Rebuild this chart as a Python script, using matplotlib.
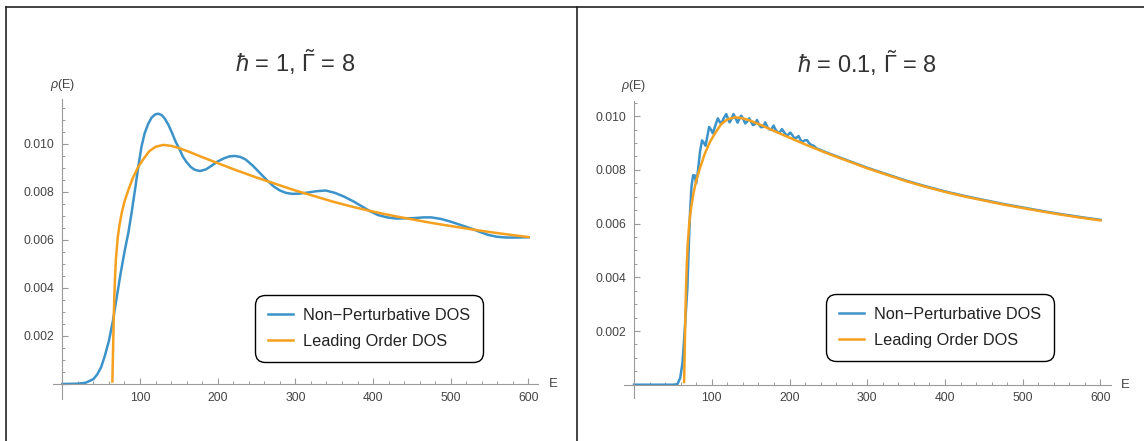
import numpy as np
import matplotlib.pyplot as plt
from matplotlib.lines import Line2D
import matplotlib.transforms as mtransforms

plt.rcParams['font.family'] = ['Liberation Sans', 'DejaVu Sans']
plt.rcParams['mathtext.fontset'] = 'custom'
plt.rcParams['mathtext.rm'] = 'Liberation Sans'
plt.rcParams['mathtext.it'] = 'Liberation Sans:italic'

# leading order DOS (same curve in both panels)
lo_E = [64.4, 65.3, 66.2, 67.0, 67.8, 69.0, 71.3, 73.5, 76.4, 80, 85, 91, 97.8, 105, 112,
        120, 130, 140, 150, 165, 180, 200, 225, 250, 275, 300, 325, 350, 375, 400,
        425, 450, 475, 500, 525, 550, 575, 600]
lo_rho = [0.0001, 0.0014, 0.0027, 0.0037, 0.0044, 0.0052, 0.0061, 0.0066, 0.00712, 0.0076,
          0.00808, 0.0086, 0.00905, 0.0094, 0.0097, 0.00988, 0.00996, 0.00992, 0.00983,
          0.00965, 0.00945, 0.0092, 0.00889, 0.0086, 0.00833, 0.00806, 0.00782, 0.00758,
          0.00737, 0.00718, 0.00701, 0.00686, 0.00671, 0.00658, 0.00645, 0.00633, 0.00622,
          0.00612]

# non-perturbative DOS, hbar = 1
np1_E = [0, 20, 30, 40, 45, 50, 55, 60, 65, 70, 75, 80, 85, 89, 93.6, 98, 102, 106, 110.7,
         115, 119.5, 123.6, 128, 132, 136.5, 141, 146, 150.6, 155, 160, 165, 170, 177, 185,
         192, 200, 208, 215, 222, 229, 236, 245, 254, 263, 272, 280, 288, 296, 305, 315, 327,
         339, 351, 363, 375, 386, 396, 406, 418, 430, 442, 453, 465, 475, 488, 500, 512, 525,
         537, 548, 560, 572, 586, 600]
np1_rho = [0, 0.00001, 0.00005, 0.0002, 0.0004, 0.0007, 0.0012, 0.0018, 0.0026, 0.0036,
           0.0046, 0.0055, 0.0063, 0.0071, 0.0081, 0.0091, 0.0099, 0.01045, 0.01085, 0.0111,
           0.01123, 0.01126, 0.0112, 0.01105, 0.0108, 0.01048, 0.01008, 0.0098, 0.00948,
           0.00924, 0.00905, 0.00893, 0.00887, 0.00894, 0.00909, 0.00927, 0.0094, 0.00948,
           0.0095, 0.00946, 0.00935, 0.0091, 0.0088, 0.0085, 0.00823, 0.00806, 0.00796,
           0.00792, 0.00793, 0.00797, 0.00803, 0.00806, 0.00796, 0.0078, 0.0076, 0.00739,
           0.0072, 0.00704, 0.00694, 0.00689, 0.0069, 0.00691, 0.00694, 0.00694, 0.00687,
           0.00676, 0.00663, 0.00649, 0.00634, 0.00621, 0.00613, 0.0061, 0.0061, 0.00611]

# non-perturbative DOS, hbar = 0.1
np01_E = [0, 50, 55.8, 59.3, 62.3, 64.4, 66.6, 68.7, 70.5, 72.2, 74.0, 76.0, 78.0, 80.0,
          82.0, 85.0, 87.5, 90.0, 92.0, 94.0, 96.6, 99.0, 101.4, 104.0, 107.8, 110.0, 112.1,
          115.0, 118.6, 121.0, 122.9, 125.5, 128.0, 131.0, 133.2, 135.5, 137.9, 140.5, 143.0,
          145.5, 148.2, 150.5, 152.9, 155.5, 158.1, 160.5, 163.2, 166.0, 168.8, 171.5, 174.0,
          176.5, 179.5, 182.0, 184.7, 187.5, 190.3, 193.0, 195.5, 198.0, 201.0, 203.5, 206.2,
          209.0, 211.7, 214.5, 216.9, 219.5, 222.5, 225.0, 228.0, 231.0, 235.0, 250, 275, 300,
          325, 350, 375, 400, 425, 450, 475, 500, 525, 550, 575, 600]
np01_rho = [0, 0, 0.00002, 0.00024, 0.0008, 0.00166, 0.00266, 0.00365, 0.0052, 0.0065,
            0.0074, 0.0078, 0.0078, 0.0075, 0.0079, 0.0087, 0.0091, 0.0090, 0.0089, 0.0092,
            0.0096, 0.0095, 0.00936, 0.0096, 0.00992, 0.0098, 0.00971, 0.0099, 0.01008, 0.0099,
            0.00977, 0.0099, 0.01008, 0.0099, 0.00976, 0.0099, 0.01002, 0.0099, 0.00973, 0.0098,
            0.00992, 0.0098, 0.00967, 0.0097, 0.00986, 0.0097, 0.00959, 0.0096, 0.00977, 0.0096,
            0.00951, 0.0095, 0.00965, 0.0095, 0.0094, 0.0094, 0.00952, 0.0094, 0.0093, 0.0093,
            0.00939, 0.0093, 0.00918, 0.0092, 0.00926, 0.0091, 0.00905, 0.0091, 0.00911, 0.0090,
            0.00893, 0.0089, 0.0088, 0.00862, 0.00835, 0.00808, 0.00784, 0.0076, 0.00739,
            0.0072, 0.00703, 0.00688, 0.00673, 0.0066, 0.00647, 0.00635, 0.00624, 0.00614]

titles = [r'$\hbar$ = 1, $\tilde{\Gamma}$ = 8', r'$\hbar$ = 0.1, $\tilde{\Gamma}$ = 8']
labels = ['Non\u2212Perturbative DOS', 'Leading Order DOS']
x_ticks = [100, 200, 300, 400, 500, 600]
y_ticks = [0.002, 0.004, 0.006, 0.008, 0.010]

blue = '#3c93c9'
orange = '#f5a01e'
axis_gray = '#9a9a9a'
text_gray = '#444444'

fig = plt.figure(figsize=(11.44, 4.41), dpi=100)

panels = [
    dict(rect=[0.04598, 0.09456, 0.42448, 0.68027], ylim=(-0.00064, 0.01186),
         xlim=(-12.5, 612.5), np_E=np1_E, np_rho=np1_rho, legend_xy=(0.4168, 0.1243)),
    dict(rect=[0.54537, 0.09751, 0.42544, 0.67415], ylim=(-0.000495, 0.010577),
         xlim=(-13, 613), np_E=np01_E, np_rho=np01_rho, legend_xy=(0.4153, 0.1245)),
]

for p, title in zip(panels, titles):
    ax = fig.add_axes(p['rect'])
    ax.plot(p['np_E'], p['np_rho'], color=blue, lw=1.8, label=labels[0], solid_joinstyle='round')
    ax.plot(lo_E, lo_rho, color=orange, lw=1.8, label=labels[1], solid_joinstyle='round')
    ax.set_xlim(*p['xlim'])
    ax.set_ylim(*p['ylim'])

    # Mathematica-style axes crossing at the origin
    for side in ['top', 'right']:
        ax.spines[side].set_visible(False)
    for side in ['left', 'bottom']:
        ax.spines[side].set_position(('data', 0))
        ax.spines[side].set_color(axis_gray)
        ax.spines[side].set_linewidth(0.8)

    ax.set_xticks(x_ticks)
    ax.set_xticklabels([str(t) for t in x_ticks])
    ax.set_yticks(y_ticks)
    ax.set_yticklabels(['%.3f' % t for t in y_ticks])
    ax.set_xticks(np.arange(20, 601, 20), minor=True)
    ax.set_yticks(np.arange(0.0005, p['ylim'][1], 0.0005), minor=True)
    ax.tick_params(which='major', direction='in', length=4.5, width=0.8, color=axis_gray,
                   labelsize=8.8, labelcolor=text_gray, pad=5.5)
    ax.tick_params(which='minor', direction='in', length=2.2, width=0.7, color=axis_gray)

    # title, axis labels
    ax.text(0.5, 1.092, title, transform=ax.transAxes, ha='center', va='baseline',
            fontsize=17, color='#333333')
    trans = mtransforms.blended_transform_factory(ax.transData, ax.transAxes)
    ax.text(0, 1.038, r'$\rho$(E)', transform=trans, ha='center', va='baseline',
            fontsize=9, color=text_gray)
    ax.text(632, 0, 'E', ha='center', va='center', fontsize=9.5, color=text_gray)

    leg = ax.legend(loc='lower left', bbox_to_anchor=p['legend_xy'], borderaxespad=0,
                    fontsize=11.7, handlelength=1.55, handletextpad=0.6, borderpad=0.8,
                    labelspacing=0.67, framealpha=1, fancybox=True)
    leg.get_frame().set_edgecolor('black')
    leg.get_frame().set_linewidth(1.0)
    leg.get_frame().set_boxstyle('round', pad=0, rounding_size=0.6)
    for t in leg.get_texts():
        t.set_color('#222222')

# outer frame lines of the two cells
fig.add_artist(Line2D([6 / 1144, 1], [1 - 7 / 441, 1 - 7 / 441], transform=fig.transFigure,
                      color='#222222', lw=1.2))
fig.add_artist(Line2D([6 / 1144, 6 / 1144], [0, 1 - 7 / 441], transform=fig.transFigure,
                      color='#222222', lw=1.2))
fig.add_artist(Line2D([577 / 1144, 577 / 1144], [0, 1 - 7 / 441], transform=fig.transFigure,
                      color='#222222', lw=1.2))

fig.savefig('out.png', dpi=100)
